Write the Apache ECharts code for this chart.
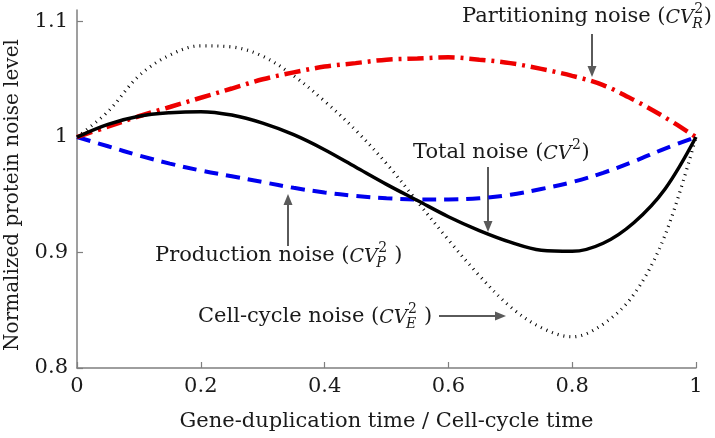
<!DOCTYPE html>
<html>
<head>
<meta charset="utf-8">
<script src="https://cdn.jsdelivr.net/npm/echarts@6/dist/echarts.min.js"></script>
<style>html,body{margin:0;padding:0;background:#fff}#c{width:715px;height:438px}</style>
</head>
<body>
<div id="c"></div>
<script>
// ---- data ----
const xs = [0,0.05,0.1,0.15,0.2,0.25,0.3,0.35,0.4,0.45,0.5,0.55,0.6,0.65,0.7,0.75,0.8,0.85,0.9,0.95,1];
const totalNoise = [1,1.011,1.018,1.021,1.022,1.019,1.012,1.002,0.989,0.974,0.959,0.945,0.931,0.919,0.909,0.902,0.901,0.908,0.926,0.955,1];
const productionNoise = [1,0.992,0.984,0.977,0.971,0.966,0.961,0.956,0.952,0.949,0.947,0.946,0.946,0.947,0.95,0.955,0.961,0.969,0.979,0.99,1];
const partitioningNoise = [1,1.009,1.018,1.026,1.034,1.042,1.05,1.056,1.061,1.064,1.067,1.068,1.069,1.067,1.064,1.059,1.053,1.045,1.032,1.017,1];
const cellCycleNoise = [1,1.022,1.053,1.071,1.079,1.078,1.07,1.053,1.031,1.006,0.977,0.944,0.911,0.88,0.853,0.835,0.827,0.838,0.864,0.915,1];
const xTickValues = [0,0.2,0.4,0.6,0.8,1];
const xTickLabels = ['0','0.2','0.4','0.6','0.8','1'];
const yTickValues = [0.8,0.9,1.0,1.1];
const yTickLabels = ['0.8','0.9','1','1.1'];
const xTitle = 'Gene-duplication time / Cell-cycle time';
const yTitle = 'Normalized protein noise level';

const FONT = '"DejaVu Serif", "Liberation Serif", serif';
const TXT = '#1a1a1a';
const AX = '#7f7f7f';

function pairs(ys){ return xs.map((x,i)=>[x, ys[i]]); }

const chart = echarts.init(document.getElementById('c'), null, {renderer:'canvas'});

function lineSeries(name, ys, color, width, type, z){
  return {name, type:'line', data:pairs(ys), smooth:0.35, showSymbol:false, symbol:'none', z,
    lineStyle:{color, width, type, cap:'butt'}, emphasis:{disabled:true}, animation:false};
}

// text measurement
const mctx = document.createElement('canvas').getContext('2d');
function tw(t, font){ mctx.font = font; return mctx.measureText(t).width; }

function mathLabel(x, y, pre, sup, sub, post){
  const fs = 21, sfs = 14;
  const fN = fs + 'px ' + FONT, fI = 'italic 19px ' + FONT;
  const fS = sfs + 'px ' + FONT, fSI = 'italic ' + sfs + 'px ' + FONT;
  const els = [];
  let cx = x;
  els.push({type:'text', silent:true, style:{text:pre, x:cx, y, font:fN, fill:TXT, verticalAlign:'middle', align:'left'}});
  cx += tw(pre, fN);
  els.push({type:'text', silent:true, style:{text:'CV', x:cx, y:y+1, font:fI, fill:TXT, verticalAlign:'middle', align:'left'}});
  cx += tw('CV', fI) + 0.5;
  let sw = 0;
  if (sup){ els.push({type:'text', silent:true, style:{text:sup, x:cx, y:y-8, font:fS, fill:TXT, verticalAlign:'middle', align:'left'}}); sw = Math.max(sw, tw(sup, fS)); }
  if (sub){ els.push({type:'text', silent:true, style:{text:sub, x:cx-2, y:y+7, font:fSI, fill:TXT, verticalAlign:'middle', align:'left'}}); sw = Math.max(sw, tw(sub, fSI) - 2); }
  cx += sw + 0.5;
  els.push({type:'text', silent:true, style:{text:post, x:cx, y, font:fN, fill:TXT, verticalAlign:'middle', align:'left'}});
  return els;
}

function arrow(x1, y1, x2, y2){
  const col = '#5a5a5a', L = 11, W = 4.5;
  const dx = x2-x1, dy = y2-y1, len = Math.hypot(dx,dy), ux = dx/len, uy = dy/len;
  const bx = x2 - ux*L, by = y2 - uy*L;
  return [
    {type:'line', silent:true, shape:{x1, y1, x2:bx, y2:by}, style:{stroke:col, lineWidth:2}},
    {type:'polygon', silent:true, shape:{points:[[x2,y2],[bx - uy*W, by + ux*W],[bx + uy*W, by - ux*W]]}, style:{fill:col}}
  ];
}

const graphics = [].concat(
  [{type:'text', silent:true, rotation:Math.PI/2, x:13, y:195,
    style:{text:yTitle, x:0, y:0, font:'20px ' + FONT, fill:TXT, align:'center', verticalAlign:'middle'}}],
  mathLabel(462, 17, 'Partitioning noise (', '2', 'R', ')'),
  mathLabel(413, 153, 'Total noise (', '2', null, ')'),
  mathLabel(155, 256, 'Production noise (', '2', 'P', ' )'),
  mathLabel(198, 317, 'Cell-cycle noise (', '2', 'E', ' )'),
  arrow(592, 34, 592, 77),
  arrow(488, 167, 488, 232),
  arrow(288, 246, 288, 194),
  arrow(439, 316, 506, 316)
);

chart.setOption({
  animation:false,
  backgroundColor:'#fff',
  grid:{left:77, right:19, top:10, bottom:70, containLabel:false, outerBoundsMode:'none'},
  xAxis:{type:'value', min:0, max:1, interval:0.2,
    name:xTitle, nameLocation:'middle', nameGap:43,
    nameTextStyle:{fontFamily:FONT, fontSize:21, color:TXT},
    axisLine:{show:true, onZero:false, lineStyle:{color:AX, width:1.5}},
    axisTick:{show:true, inside:true, length:6, lineStyle:{color:AX, width:1.2}},
    axisLabel:{fontFamily:FONT, fontSize:21, color:TXT, margin:8,
      formatter:(v)=>{ const i = xTickValues.findIndex(t=>Math.abs(t-v)<1e-9); return i>=0 ? xTickLabels[i] : ''; }},
    splitLine:{show:false}},
  yAxis:{type:'value', min:0.8, max:1.11,
    axisLine:{show:true, onZero:false, lineStyle:{color:AX, width:1.5}},
    axisTick:{show:true, inside:true, length:6, customValues:yTickValues, lineStyle:{color:AX, width:1.2}},
    axisLabel:{fontFamily:FONT, fontSize:21, color:TXT, margin:9, customValues:yTickValues,
      formatter:(v)=>{ const i = yTickValues.findIndex(t=>Math.abs(t-v)<1e-6); return i>=0 ? yTickLabels[i] : ''; }},
    splitLine:{show:false}},
  series:[
    lineSeries('Cell-cycle noise', cellCycleNoise, '#000', 3.2, [1,5], 1),
    lineSeries('Production noise', productionNoise, '#0000ee', 4, [14,8], 2),
    lineSeries('Partitioning noise', partitioningNoise, '#ee0000', 4.5, [16,6,3,6], 3),
    lineSeries('Total noise', totalNoise, '#000', 3.5, 'solid', 4)
  ],
  graphic:graphics
});
</script>
</body>
</html>
